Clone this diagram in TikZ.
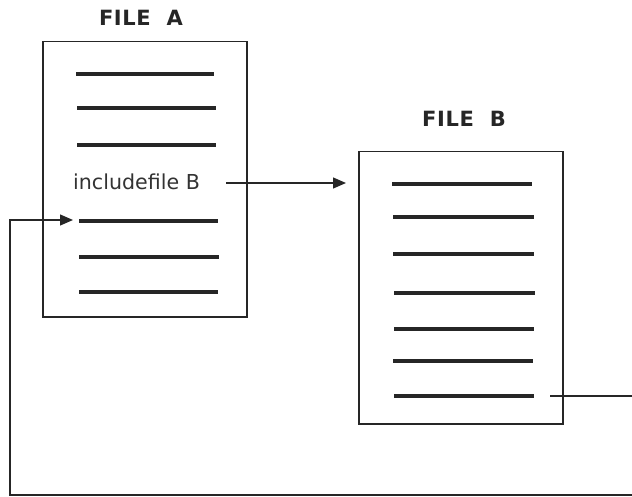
\documentclass[tikz,border=0pt]{standalone}
\usepackage{fontspec}
\setmainfont{DejaVu Sans}
\newfontfamily\titlefont[LetterSpace=3]{DejaVu Sans Bold}
\usetikzlibrary{arrows.meta}
\begin{document}
\begin{tikzpicture}[x=1pt,y=-1pt,
  filebox/.style={draw=black!85,line width=1.5pt,inner sep=0pt,anchor=north west},
  textline/.style={line width=4pt,black!85},
  conn/.style={draw=black!85,line width=1.2pt},
  tip/.style={-{Triangle[length=13pt,width=11pt]}},
  title/.style={font=\titlefont\fontsize{21}{24}\selectfont,text=black!85,inner sep=0pt},
  label/.style={font=\fontsize{20.6}{24}\selectfont,text=black!80,inner sep=0pt}]
\clip (0,0) rectangle (632,497);
\useasboundingbox (0,0) rectangle (632,497);
% File A
\node[filebox,minimum width=204pt,minimum height=275pt] (A) at (42,41) {};
\node[title] (tA) at (141,18) {FILE\ \ A};
\foreach \y/\a/\b in {74/76/214, 108/77/216, 145/77/216, 221/79/218, 257/79/219, 292/79/218}
  \draw[textline] (\a,\y) -- (\b,\y);
\node[label,anchor=west] (inc) at (73,182) {includefile B};
% File B
\node[filebox,minimum width=204pt,minimum height=272pt] (B) at (358,151) {};
\node[title] (tB) at (464,119) {FILE\ \ B};
\foreach \y/\a/\b in {184/392/532, 217/393/534, 254/393/534, 293/394/535, 329/394/534, 361/393/533, 396/394/534}
  \draw[textline] (\a,\y) -- (\b,\y);
% connectors
\coordinate (c1s) at (226,183);
\coordinate (c1e) at (346,183);
\draw[conn,tip] (c1s) -- (c1e);
\coordinate (c2s) at (550,396);
\coordinate (c2e) at (73,220);
\draw[conn,tip] (c2s) -- (650,396) -- (650,495) -- (10,495) -- (10,220) -- (c2e);
\end{tikzpicture}
\end{document}
